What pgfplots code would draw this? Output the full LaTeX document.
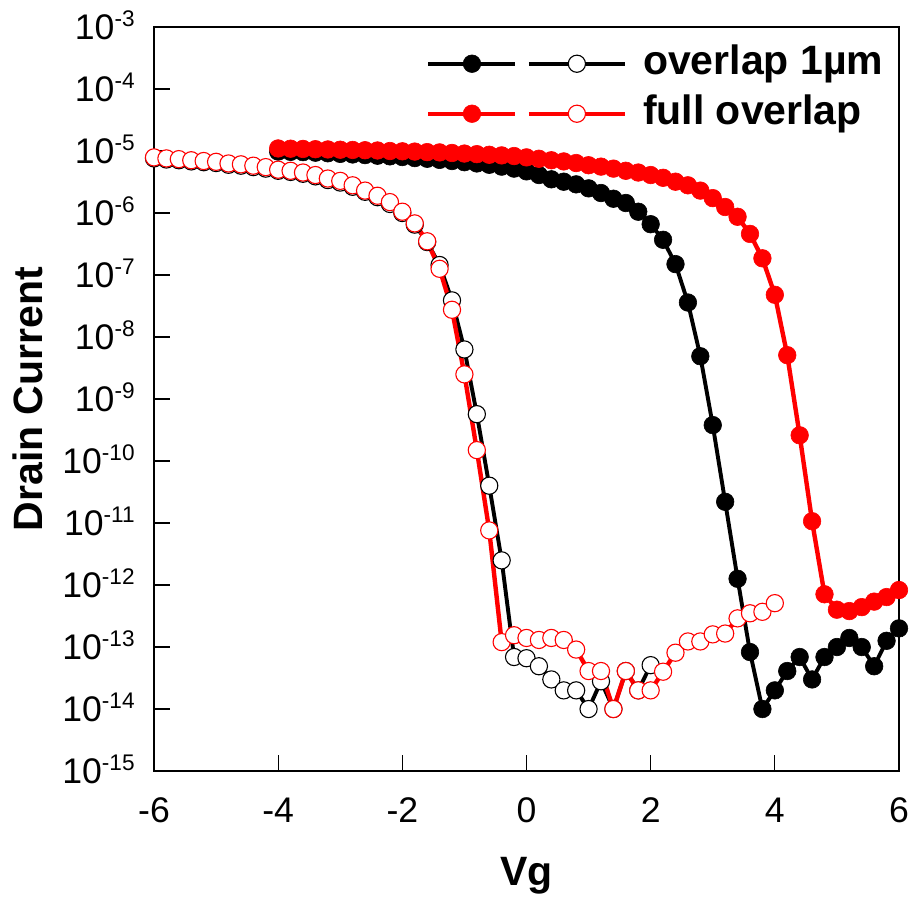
\documentclass[border=0pt]{standalone}
\usepackage{fontspec}
\setmainfont{Liberation Sans}
\usepackage{pgfplots}
\pgfplotsset{compat=1.18}
\usepackage{pgfplotstable}

\pgfplotsset{
  legA/.style={legend image code/.code={\draw[mark repeat=2,mark phase=2,##1] plot coordinates {(0pt,0pt) (21.75pt,0pt) (43.5pt,0pt)};}},
  legB/.style={legend image code/.code={\draw[mark repeat=2,mark phase=2,##1] plot coordinates {(0pt,0pt) (24pt,0pt) (48pt,0pt)};}},
}

\pgfplotstableread{
x y
-4.0 9.8e-6
-3.8 9.7e-6
-3.6 9.6e-6
-3.4 9.4e-6
-3.2 9.2e-6
-3.0 9.0e-6
-2.8 8.8e-6
-2.6 8.6e-6
-2.4 8.4e-6
-2.2 8.2e-6
-2.0 8.0e-6
-1.8 7.7e-6
-1.6 7.5e-6
-1.4 7.2e-6
-1.2 6.9e-6
-1.0 6.6e-6
-0.8 6.3e-6
-0.6 6.0e-6
-0.4 5.6e-6
-0.2 5.2e-6
0.0 4.7e-6
0.2 4.1e-6
0.4 3.5e-6
0.6 3.2e-6
0.8 2.9e-6
1.0 2.5e-6
1.2 2.1e-6
1.4 1.7e-6
1.6 1.45e-6
1.8 1.05e-6
2.0 6.6e-7
2.2 3.7e-7
2.4 1.5e-7
2.6 3.6e-8
2.8 4.9e-9
3.0 3.8e-10
3.2 2.2e-11
3.4 1.26e-12
3.6 8.3e-14
3.8 1.0e-14
4.0 2.0e-14
4.2 4.1e-14
4.4 6.9e-14
4.6 3.0e-14
4.8 6.9e-14
5.0 1.0e-13
5.2 1.4e-13
5.4 1.0e-13
5.6 4.9e-14
5.8 1.26e-13
6.0 2.0e-13
}\blackfilled

\pgfplotstableread{
x y
-6.0 7.6e-6
-5.8 7.3e-6
-5.6 7.1e-6
-5.4 6.8e-6
-5.2 6.6e-6
-5.0 6.4e-6
-4.8 6.0e-6
-4.6 5.8e-6
-4.4 5.5e-6
-4.2 5.2e-6
-4.0 4.8e-6
-3.8 4.6e-6
-3.6 4.3e-6
-3.4 3.9e-6
-3.2 3.4e-6
-3.0 3.1e-6
-2.8 2.65e-6
-2.6 2.2e-6
-2.4 1.8e-6
-2.2 1.4e-6
-2.0 1.0e-6
-1.8 6.5e-7
-1.6 3.4e-7
-1.4 1.45e-7
-1.2 3.9e-8
-1.0 6.3e-9
-0.8 5.7e-10
-0.6 4.0e-11
-0.4 2.5e-12
-0.2 6.9e-14
0.0 6.6e-14
0.2 4.9e-14
0.4 3.0e-14
0.6 2.0e-14
0.8 2.0e-14
1.0 1.0e-14
1.2 2.8e-14
1.4 1.0e-14
1.6 4.1e-14
1.8 2.0e-14
2.0 5.1e-14
}\blackopen

\pgfplotstableread{
x y
-4.0 1.10e-5
-3.8 1.09e-5
-3.6 1.08e-5
-3.4 1.07e-5
-3.2 1.06e-5
-3.0 1.05e-5
-2.8 1.04e-5
-2.6 1.03e-5
-2.4 1.02e-5
-2.2 1.00e-5
-2.0 9.9e-6
-1.8 9.8e-6
-1.6 9.6e-6
-1.4 9.5e-6
-1.2 9.3e-6
-1.0 9.1e-6
-0.8 8.9e-6
-0.6 8.7e-6
-0.4 8.5e-6
-0.2 8.3e-6
0.0 7.9e-6
0.2 7.5e-6
0.4 7.1e-6
0.6 6.8e-6
0.8 6.4e-6
1.0 5.9e-6
1.2 5.6e-6
1.4 5.2e-6
1.6 4.8e-6
1.8 4.5e-6
2.0 4.1e-6
2.2 3.7e-6
2.4 3.2e-6
2.6 2.8e-6
2.8 2.3e-6
3.0 1.74e-6
3.2 1.25e-6
3.4 8.7e-7
3.6 4.6e-7
3.8 1.86e-7
4.0 4.8e-8
4.2 5.1e-9
4.4 2.6e-10
4.6 1.07e-11
4.8 7.1e-13
5.0 4.0e-13
5.2 3.8e-13
5.4 4.4e-13
5.6 5.4e-13
5.8 6.4e-13
6.0 8.3e-13
}\redfilled

\pgfplotstableread{
x y
-6.0 7.9e-6
-5.8 7.6e-6
-5.6 7.4e-6
-5.4 7.1e-6
-5.2 6.9e-6
-5.0 6.7e-6
-4.8 6.3e-6
-4.6 6.1e-6
-4.4 5.8e-6
-4.2 5.5e-6
-4.0 5.0e-6
-3.8 4.8e-6
-3.6 4.5e-6
-3.4 4.1e-6
-3.2 3.6e-6
-3.0 3.3e-6
-2.8 2.8e-6
-2.6 2.3e-6
-2.4 1.9e-6
-2.2 1.5e-6
-2.0 1.05e-6
-1.8 6.8e-7
-1.6 3.5e-7
-1.4 1.26e-7
-1.2 2.75e-8
-1.0 2.5e-9
-0.8 1.5e-10
-0.6 7.6e-12
-0.4 1.2e-13
-0.2 1.55e-13
0.0 1.4e-13
0.2 1.3e-13
0.4 1.4e-13
0.6 1.3e-13
0.8 9.1e-14
1.0 4.1e-14
1.2 4.1e-14
1.4 1.0e-14
1.6 4.1e-14
1.8 2.0e-14
2.0 2.0e-14
2.2 4.0e-14
2.4 8.1e-14
2.6 1.23e-13
2.8 1.23e-13
3.0 1.6e-13
3.2 1.65e-13
3.4 2.9e-13
3.6 3.5e-13
3.8 3.7e-13
4.0 5.1e-13
}\redopen

\newcommand{\tp}[1]{10\raisebox{6.3pt}{\fontsize{11.3}{12}\selectfont #1}}

\begin{document}
\begin{tikzpicture}
\useasboundingbox (-77pt,-65.5pt) rectangle (379.5pt,385.5pt);
\begin{axis}[
  at={(0pt,0pt)}, anchor=south west,
  scale only axis,
  width=372.5pt, height=372pt,
  xmin=-6, xmax=6,
  ymode=log, ymin=1e-15, ymax=1e-3,
  yminorticks=false,
  clip=false,
  xtick={-6,-4,-2,0,2,4,6},
  xticklabels={-6,-4,-2,0,2,4,6},
  ytick={1e-15,1e-14,1e-13,1e-12,1e-11,1e-10,1e-9,1e-8,1e-7,1e-6,1e-5,1e-4,1e-3},
  yticklabels={\tp{-15},\tp{-14},\tp{-13},\tp{-12},\tp{-11},\tp{-10},\tp{-9},\tp{-8},\tp{-7},\tp{-6},\tp{-5},\tp{-4},\tp{-3}},
  xtick pos=bottom, ytick pos=left,
  tick align=inside,
  major tick length=7.8pt,
  every tick/.style={black, line width=0.6pt},
  axis line style={line width=0.65pt},
  tick label style={font=\fontsize{17.8}{20}\selectfont},
  yticklabel style={anchor=base east, inner sep=0pt, xshift=-9.5pt, yshift=-6.25pt},
  xticklabel style={anchor=base, inner sep=0pt, yshift=-25.5pt},
  xlabel={Vg},
  ylabel={Drain Current},
  xlabel style={at={(axis description cs:0.5,-0.1532)}, anchor=base, font=\bfseries\fontsize{20.5}{24}\selectfont},
  ylabel style={at={(axis description cs:-0.149,0.5)}, anchor=base, font=\bfseries\fontsize{20.5}{24}\selectfont},
  legend columns=2,
  legend cell align=left,
  legend style={draw=none, fill=none, inner sep=0pt, outer sep=0pt,
    at={(axis description cs:0.3655,0.9766)}, anchor=north west,
    row sep=5.7pt,
    font=\bfseries\fontsize{20.5}{24}\selectfont,
    nodes={inner ysep=0pt, text height=14.8pt, text depth=4.5pt}},
]
\addplot[black, line width=1.95pt, mark=*, mark size=4.4pt,
  mark options={fill=black, draw=black, line width=0.3pt}, legA]
  table {\blackfilled};
\addlegendentry[inner xsep=0pt]{\hspace*{4.5pt}}
\addplot[black, line width=1.95pt, mark=*, mark size=4.3pt,
  mark options={fill=white, draw=black, line width=0.55pt}, legB]
  table {\blackopen};
\addlegendentry[inner xsep=8pt]{overlap 1µm}
\addplot[red, line width=2.2pt, mark=*, mark size=4.4pt,
  mark options={fill=red, draw=red, line width=0.3pt}, legA]
  table {\redfilled};
\addlegendentry[inner xsep=0pt]{\hspace*{4.5pt}}
\addplot[red, line width=2.2pt, mark=*, mark size=4.3pt,
  mark options={fill=white, draw=red, line width=0.55pt}, legB]
  table {\redopen};
\addlegendentry[inner xsep=8pt]{full overlap}
\end{axis}
\end{tikzpicture}
\end{document}
